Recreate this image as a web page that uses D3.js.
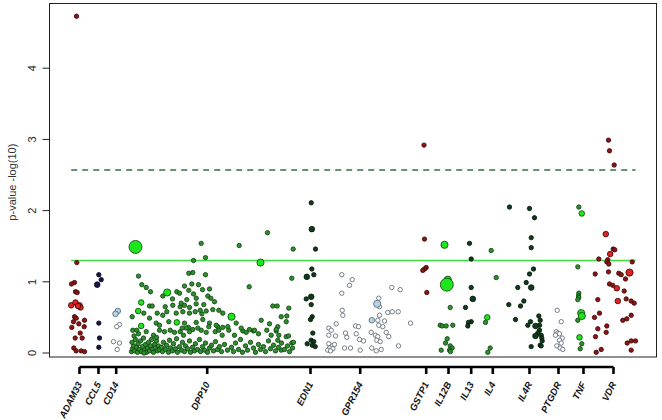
<!DOCTYPE html>
<html>
<head>
<meta charset="utf-8">
<script src="https://cdn.jsdelivr.net/npm/d3@7"></script>
<style>
  body { margin: 0; background: #fff; }
  svg { display: block; font-family: "Liberation Sans", Arial, sans-serif; }
</style>
</head>
<body>
<div id="chart"></div>
<script>
// gene labels and where their tick sits on the position axis
const geneNames = ["ADAM33", "CCL5", "CD14", "DPP10", "EDN1", "GPR154", "GSTP1", "IL12B", "IL13", "IL4", "IL4R", "PTGDR", "TNF", "VDR"];
const geneTicks = [30, 49, 66.7, 157.7, 261, 310.7, 376.7, 399, 421.7, 443.3, 480, 509, 534, 564];
const yTicks = [0, 1, 2, 3, 4];
const thresholds = [1.3, 2.57]; // nominal and corrected significance

// SNPs per gene: [position, -log10(p), weight]
const adam33 = [[27,4.73],[27.3,1.27],[25,0.99],[22,0.97],[26,0.86],[27.7,0.85],[21.7,0.67,1],[26,0.71,1],[30,0.67,1],[31,0.64,1],[28.5,0.66,1],
  [25,0.51],[26.7,0.49],[24,0.44],[35,0.46],[22.3,0.36],[29.3,0.41],[34.7,0.37],[30.7,0.28],[25.7,0.21],[32.7,0.21],[24.3,0.07],[26.7,0.03],[31.7,0.03],[35,0.02]];
const ccl5 = [[49.3,1.10],[51.7,1.03],[47.7,0.96,1],[49.3,0.42],[50,0.21],[49.3,0.08]];
const cd14 = [[68.3,0.59,1],[66,0.55,1],[70,0.40],[67.3,0.37],[64,0.16],[70,0.14],[67.7,0.05]];
const dpp10 = [[86,1.49,3],[117.7,0.85,2],[182,0.51,2],[211,1.27,2],[127.3,0.43,1],[91.7,0.38,1],[88.7,0.59,1],[91.7,0.71,1],
  [151.7,1.54],[156,1.34],[144,1.30],[189.7,1.51],[218,1.69],[243.7,1.46],[89,1.08],[139.3,1.12],[143.3,1.13],[156,1.10],[242.3,1.05],
  [92.3,0.96],[135,0.94],[142.3,0.97],[149,0.96],[96.7,0.92],[101,0.86],[199.7,0.93],[127.3,0.86],[130,0.84],[139.3,0.88],[144,0.83],
  [153,0.89],[160,0.90],[158.3,0.80],[161.3,0.77],[113.3,0.80],[123,0.76],[100,0.66],[102.7,0.66],[137.3,0.75],[146.7,0.77],[115.7,0.65],
  [123.3,0.67],[130.7,0.65],[140,0.64],[146.7,0.69],[154.3,0.68],[165,0.72],[223.3,0.66],[227.7,0.66],[239.3,0.63],[94.3,0.56],
  [107.7,0.56],[113.3,0.53],[117.3,0.58],[126.7,0.56],[133.3,0.58],[140,0.56],[145.7,0.58],[152.3,0.55],[156.7,0.59],[173.3,0.56],
  [211.7,0.46],[220,0.41],[231.7,0.51],[237.3,0.52],[82.7,0.51],[100,0.49],[106.7,0.42],[110,0.39],[119.3,0.44],[135,0.42],[139,0.36],
  [146.7,0.43],[153.3,0.47],[160,0.42],[168.3,0.37],[178.3,0.37],[186.7,0.42],[193.3,0.31],[196.7,0.29],[204,0.31],[228.3,0.37],
  [226.7,0.31],[236.7,0.44],[83.3,0.32],[87.3,0.32],[96.7,0.30],[110,0.32],[115,0.30],[120.7,0.32],[125,0.29],[130.7,0.30],[134,0.25],
  [140,0.30],[151.7,0.32],[156.7,0.29],[165.7,0.30],[172.7,0.25],[185,0.25],[209,0.27],[221.7,0.25],[229.3,0.25],
  [131.7,0.70],[135,0.67],[150.7,0.60],[163.3,0.61],[169.3,0.60],[136.7,0.35],[132.7,0.35],[143.3,0.33],[148.3,0.35],[159.3,0.37],
  [166.7,0.39],[173.3,0.36],[169.3,0.32],[179.3,0.32],[191.7,0.35],[200,0.33],[205,0.32],[217.3,0.32],[226.7,0.33],[236.7,0.23],[228.3,0.18],
  [242.3,0.14],[244,0.15],[231.7,0.04],[239,0.24],
  [82,0.02],[83,0.06],[84,0.10],[82.5,0.15],[85,0.03],[86,0.19],[87,0.08],[88,0.01],[88.5,0.13],[90,0.05],[91,0.17],[92,0.02],[93,0.09],
  [94,0.21],[95,0.04],[96,0.12],[97,0.01],[98,0.07],[99,0.15],[100,0.03],[101,0.10],[102,0.19],[103,0.05],[104,0.01],[105,0.12],[106,0.07],
  [107,0.17],[108,0.03],[109,0.10],[110,0.05],[84.5,0.24],[89,0.27],[104,0.25],[107,0.22],[94.5,0.00],
  [112,0.08],[113,0.02],[114,0.15],[116,0.05],[117,0.11],[119,0.01],[120,0.18],[121,0.07],[123,0.03],[124,0.13],[126,0.06],[127,0.20],
  [128,0.01],[130,0.09],[132,0.04],[133,0.15],[135,0.02],[136,0.10],[138,0.06],[140,0.17],[141,0.01],[143,0.08],[145,0.03],[146,0.13],
  [148,0.05],[150,0.19],[151,0.02],[153,0.09],[155,0.04],[156,0.14],[158,0.01],[160,0.07],[162,0.11],[164,0.03],[166,0.16],[168,0.05],
  [170,0.09],[172,0.02],[175,0.12],[178,0.04],
  [182,0.08],[184,0.02],[186,0.14],[189,0.05],[191,0.19],[193,0.01],[196,0.10],[198,0.04],[201,0.15],[204,0.07],[206,0.01],[209,0.12],
  [211,0.05],[214,0.09],[216,0.02],[219,0.17],[221,0.06],[224,0.11],[226,0.03],[229,0.08],[232,0.14],[235,0.05],[238,0.10],[240,0.02],[243,0.07]];
const edn1 = [[261.7,2.11],[262.3,1.74,1],[266,1.46],[262.3,1.18],[257.3,1.07,1],[264.3,1.10],[261.7,0.79,1],[256.7,0.76],[261.7,0.68],
  [262.7,0.51],[261,0.47],[263.3,0.28],[261.7,0.18],[264.3,0.16],[262.7,0.11],[257.7,0.13],[265.7,0.09]];
const gpr154 = [[292.3,1.10],[302.7,1.03],[300,0.95],[292.3,0.84],[342.3,0.92],[350.7,0.89],[292.7,0.60],[293.3,0.53],[329.3,0.77],
  [327.7,0.69,2],[330,0.65],[322.3,0.46,1],[330,0.53],[338.3,0.57],[342.7,0.58],[348.7,0.58],[328.3,0.46],[335,0.45],[329.3,0.39],
  [333.3,0.37],[361,0.42],[286.7,0.41],[279.3,0.35],[281.7,0.32],[306,0.38],[309,0.37],[321.7,0.29],[336.7,0.29],[279.3,0.25],[286,0.24],
  [296,0.28],[297.3,0.22],[306.7,0.27],[310,0.19],[314,0.17],[326,0.25],[328.3,0.23],[327.3,0.18],[330.7,0.16],[339.3,0.23],[279.3,0.13],
  [282.7,0.10],[285,0.12],[280,0.07],[283.3,0.06],[278.3,0.04],[281,0.03],[295,0.07],[301,0.07],[310.7,0.04],[322.3,0.07],[326.7,0.03],
  [331.7,0.05],[349,0.10]];
const gstp1 = [[374.5,2.92],[375,1.60],[376.7,1.20],[375,1.18],[373.3,1.16],[377.3,0.85]];
const il12b = [[395,1.52,2],[397.3,0.96,3],[398.3,1.03,2],[400.7,0.64],[390.7,0.39],[392.7,0.38],[396.7,0.38],[403.3,0.39],[397.7,0.20],
  [396,0.14],[400.7,0.10],[402.7,0.07],[400,0.04],[401,0.02],[391.7,0.04]];
const il13 = [[420,1.54],[421.7,1.32],[421.7,0.92],[423.3,0.76,1],[416,0.64],[421.7,0.44],[419,0.43],[418.3,0.38]];
const il4 = [[441.7,1.44],[446.7,1.06],[437.7,0.50,1],[436,0.43],[440.7,0.07],[438.3,0.01]];
const il4r = [[460,2.05],[480,2.03],[485,1.90],[481.7,1.62],[481.7,1.48],[484,1.18],[480,1.11],[476.7,0.99],[468.3,0.92],[481.7,0.92,1],
  [474.3,0.73],[459.3,0.68],[471,0.66],[466,0.47],[481,0.44],[489.3,0.52],[490.7,0.46],[478.3,0.39],[486,0.38,1],[490,0.39],[490,0.32],
  [488.3,0.28],[491.7,0.25],[486,0.24,1],[492.3,0.21],[492.7,0.17],[490.7,0.11],[491.7,0.10],[481.7,0.09]];
const ptgdr = [[507.7,0.60],[511.7,0.44],[506.7,0.30],[508.3,0.28],[506,0.25],[510,0.27],[512.7,0.21],[510,0.18],[511.7,0.14],[507.3,0.10],
  [510.7,0.07],[513.3,0.05]];
const tnf = [[529.3,2.05],[532.3,1.96,1],[528.3,1.21],[529.3,0.84],[529,0.80],[529.3,0.78],[528.3,0.75],[531.7,0.56,2],[532.3,0.52,2],
  [528.3,0.46],[530,0.22,1],[532.3,0.13],[530.7,0.06]];
const vdr = [[559,2.99],[560,2.84],[564.7,2.64],[556.3,1.67,1],[563.7,1.46],[565.3,1.45],[560.7,1.39,1],[549.3,1.32],[558.3,1.31],[557.3,1.28],
  [559.3,1.25],[582.7,1.28],[545.7,1.11],[559,1.14],[569.3,1.12],[571.7,1.10],[580,1.13,2],[576,1.04],[560,0.97],[563.3,0.95],[567.3,0.91,1],
  [574.7,0.87],[548.3,0.75],[568.3,0.73,1],[576.7,0.76],[581.7,0.73],[584.7,0.70],[550,0.56],[545,0.50],[581.7,0.53],[573.3,0.46],
  [577.3,0.48],[557.3,0.38],[548.3,0.34],[556.7,0.29],[546,0.23],[581.7,0.17],[586,0.17],[577.7,0.14],[551.7,0.05],[546.7,0.01],[581.7,0.04]];

const geneSnps = [adam33, ccl5, cd14, dpp10, edn1, gpr154, gstp1, il12b, il13, il4, il4r, ptgdr, tnf, vdr];

// colour families: [small fill, large fill, outline]
const red = ["#8e1414", "#dc2424", "#3a0505"];
const navy = ["#15154a", "#15154a", "#050518"];
const pale = ["#ffffff", "#b2d3e6", "#56606e"];
const green = ["#2f8f2f", "#1de61d", "#0b3f0b"];
const dark = ["#0f3a1c", "#0f3a1c", "#021506"];
const geneColors = [red, navy, pale, green, dark, pale, red, green, dark, green, dark, pale, green, red];
const radii = [2.2, 2.8, 3.6, 6.5];

const width = 662, height = 420;
const margin = { top: 3, right: 5.5, bottom: 63, left: 49.5 };

const svg = d3.select('#chart').append('svg')
    .attr('width', width)
    .attr('height', height);

const x = d3.scaleLinear()
    .domain([0, 607])
    .range([margin.left, width - margin.right]);

const y = d3.scaleLinear()
    .domain([-0.056, 4.916])
    .range([height - margin.bottom, margin.top]);

// flatten to one list, small dots first so the big ones sit on top
const points = [];
geneSnps.forEach((snps, i) => {
    snps.forEach(d => points.push({ gene: i, pos: d[0], lp: d[1], w: d[2] || 0 }));
});
points.sort((a, b) => a.w - b.w);

// significance lines span the SNP range
const posExtent = d3.extent(points, d => d.pos);
svg.append('line')
    .attr('x1', x(posExtent[0])).attr('x2', x(posExtent[1]))
    .attr('y1', y(thresholds[0])).attr('y2', y(thresholds[0]))
    .attr('stroke', '#3ee03e').attr('stroke-width', 1.6);
svg.append('line')
    .attr('x1', x(posExtent[0])).attr('x2', x(posExtent[1]))
    .attr('y1', y(thresholds[1])).attr('y2', y(thresholds[1]))
    .attr('stroke', '#356f40').attr('stroke-width', 1.6)
    .attr('stroke-dasharray', '6,5');

svg.selectAll('.snp')
    .data(points)
    .enter().append('circle')
        .attr('class', 'snp')
        .attr('cx', d => x(d.pos))
        .attr('cy', d => y(d.lp))
        .attr('r', d => radii[d.w])
        .attr('fill', d => geneColors[d.gene][d.w > 0 ? 1 : 0])
        .attr('stroke', d => geneColors[d.gene][2])
        .attr('stroke-width', 0.8);

// plot frame
svg.append('rect')
    .attr('x', margin.left).attr('y', margin.top + 0.5)
    .attr('width', width - margin.left - margin.right)
    .attr('height', height - margin.bottom - margin.top - 0.5)
    .attr('fill', 'none')
    .attr('stroke', '#222')
    .attr('stroke-width', 1);

// y axis, R style: rotated tick labels
const yAxis = svg.append('g').attr('class', 'y-axis');
yAxis.append('line')
    .attr('x1', margin.left).attr('x2', margin.left)
    .attr('y1', y(yTicks[0])).attr('y2', y(yTicks[yTicks.length - 1]))
    .attr('stroke', '#222');
yAxis.selectAll('.ytick')
    .data(yTicks)
    .enter().append('line')
        .attr('x1', margin.left).attr('x2', margin.left - 7)
        .attr('y1', d => y(d)).attr('y2', d => y(d))
        .attr('stroke', '#222');
yAxis.selectAll('.ylab')
    .data(yTicks)
    .enter().append('text')
        .attr('transform', d => `translate(36,${y(d)}) rotate(-90)`)
        .attr('text-anchor', 'middle')
        .attr('font-size', 11)
        .attr('fill', '#222')
        .text(d => d);

svg.append('text')
    .attr('transform', `translate(16,${y(2.4)}) rotate(-90)`)
    .attr('text-anchor', 'middle')
    .attr('font-size', 11)
    .attr('fill', '#333')
    .text('p-value -log(10)');

// x axis: one tick per gene
const axisY = 367;
const xAxis = svg.append('g').attr('class', 'x-axis');
xAxis.append('line')
    .attr('x1', x(geneTicks[0])).attr('x2', x(geneTicks[geneTicks.length - 1]))
    .attr('y1', axisY).attr('y2', axisY)
    .attr('stroke', '#000').attr('stroke-width', 2.6);
xAxis.selectAll('.xtick')
    .data(geneTicks)
    .enter().append('line')
        .attr('x1', d => x(d)).attr('x2', d => x(d))
        .attr('y1', axisY).attr('y2', axisY + 7)
        .attr('stroke', '#000').attr('stroke-width', 2.6);
xAxis.selectAll('.xlab')
    .data(geneNames)
    .enter().append('text')
        .attr('transform', (d, i) => `translate(${x(geneTicks[i]) + 3},384) rotate(-63)`)
        .attr('text-anchor', 'end')
        .attr('font-size', 9.5)
        .attr('font-style', 'italic')
        .attr('font-weight', 'bold')
        .attr('fill', '#111')
        .text(d => d);
</script>
</body>
</html>
